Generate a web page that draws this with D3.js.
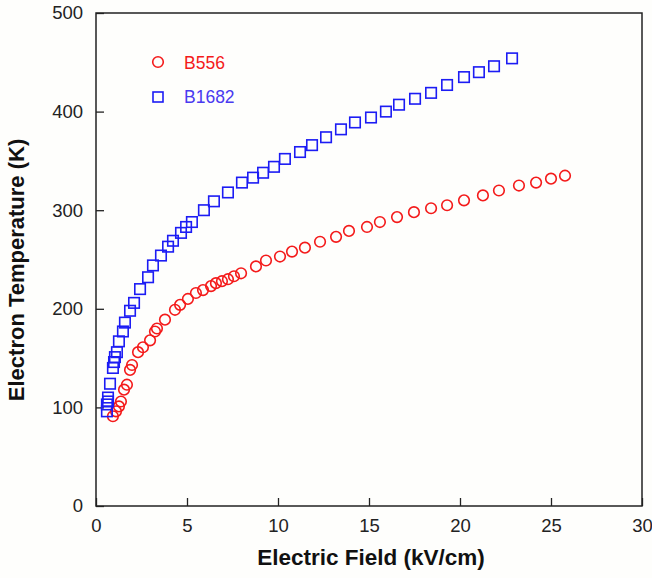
<!DOCTYPE html>
<html>
<head>
<meta charset="utf-8">
<script src="https://cdn.jsdelivr.net/npm/d3@7"></script>
<style>
  body { margin: 0; background: #fefefc; }
  text { font-family: "Liberation Sans", Arial, sans-serif; }
</style>
</head>
<body>
<div id="chart"></div>
<script>
// Electron temperature vs electric field, two samples

var b556Field = [0.93, 1.10, 1.26, 1.37, 1.54, 1.70, 1.87, 1.98, 2.31, 2.58, 2.97, 3.24, 3.35, 3.79,
    4.34, 4.62, 5.05, 5.49, 5.88, 6.32, 6.59, 6.92, 7.25, 7.58, 7.97, 8.79, 9.34, 10.11, 10.77,
    11.48, 12.31, 13.19, 13.90, 14.89, 15.60, 16.54, 17.47, 18.41, 19.29, 20.22, 21.26, 22.14,
    23.24, 24.18, 25.00, 25.77];
var b556Temp = [91, 96, 101, 106, 118, 123, 138, 143, 156, 161, 168, 177, 180, 189,
    199, 204, 210, 216, 219, 223, 226, 228, 230, 233, 236, 243, 249, 253, 258,
    262, 268, 273, 279, 283, 288, 293, 298, 302, 305, 310, 315, 320,
    325, 328, 332, 335];

var b1682Field = [0.60, 0.60, 0.66, 0.66, 0.77, 0.93, 0.99, 1.04, 1.15, 1.26, 1.48, 1.59, 1.87,
    2.09, 2.42, 2.86, 3.13, 3.57, 3.96, 4.23, 4.67, 4.95, 5.27, 5.93, 6.48, 7.25, 8.02, 8.63,
    9.18, 9.78, 10.38, 11.21, 11.87, 12.64, 13.46, 14.23, 15.11, 15.93, 16.65, 17.53, 18.41,
    19.29, 20.22, 21.04, 21.87, 22.86];
var b1682Temp = [96, 103, 106, 110, 124, 140, 146, 151, 156, 167, 177, 186, 198,
    206, 220, 232, 244, 254, 263, 269, 277, 283, 288, 300, 309, 318, 328, 333,
    338, 344, 352, 359, 366, 374, 382, 389, 394, 400, 407, 413, 419,
    427, 435, 440, 446, 454];

var xTicks = [0, 5, 10, 15, 20, 25, 30];
var yTicks = [0, 100, 200, 300, 400, 500];

var W = 652, H = 578;
var margin = { top: 13, right: 10, bottom: 72, left: 96 };

var svg = d3.select("#chart").append("svg")
    .attr("width", W)
    .attr("height", H);

var xScale = d3.scaleLinear().domain([0, 30]).range([margin.left, W - margin.right]);
var yScale = d3.scaleLinear().domain([0, 500]).range([H - margin.bottom, margin.top]);

var red = "#f41a1a", blue = "#1c1cf4";

// axes with inward ticks
var xAxis = d3.axisBottom(xScale).tickValues(xTicks).tickSizeInner(-8).tickSizeOuter(0).tickPadding(10);
var yAxis = d3.axisLeft(yScale).tickValues(yTicks).tickSizeInner(-8).tickSizeOuter(0).tickPadding(13);

var gx = svg.append("g")
    .attr("transform", "translate(0," + yScale(0) + ")")
    .call(xAxis);
var gy = svg.append("g")
    .attr("transform", "translate(" + xScale(0) + ",0)")
    .call(yAxis);

[gx, gy].forEach(function(g) {
    g.select(".domain").remove();
    g.selectAll(".tick line").attr("stroke", "#222").attr("stroke-width", 1.3);
    g.selectAll(".tick text")
        .attr("fill", "#222")
        .style("font-size", "18.5px");
});
gx.selectAll(".tick text").attr("dy", "0.85em");

// frame
svg.append("rect")
    .attr("x", xScale(0))
    .attr("y", yScale(500))
    .attr("width", xScale(30) - xScale(0))
    .attr("height", yScale(0) - yScale(500))
    .attr("fill", "none")
    .attr("stroke", "#222")
    .attr("stroke-width", 1.5);

// axis titles
svg.append("text")
    .attr("x", (xScale(0) + xScale(30)) / 2 + 2)
    .attr("y", 565)
    .attr("text-anchor", "middle")
    .style("font-size", "22.5px")
    .style("font-weight", "bold")
    .attr("fill", "#111")
    .text("Electric Field (kV/cm)");

svg.append("text")
    .attr("transform", "translate(24,270) rotate(-90)")
    .attr("text-anchor", "middle")
    .style("font-size", "22px")
    .style("font-weight", "bold")
    .attr("fill", "#111")
    .text("Electron Temperature (K)");

// B556 circles
var b556 = b556Field.map(function(f, i) { return { x: f, y: b556Temp[i] }; });
svg.append("g").selectAll("circle")
    .data(b556)
  .enter().append("circle")
    .attr("cx", function(d) { return xScale(d.x); })
    .attr("cy", function(d) { return yScale(d.y); })
    .attr("r", 5.3)
    .attr("fill", "none")
    .attr("stroke", red)
    .attr("stroke-width", 1.6);

// B1682 squares
var b1682 = b1682Field.map(function(f, i) { return { x: f, y: b1682Temp[i] }; });
var sq = 10.5;
svg.append("g").selectAll("rect")
    .data(b1682)
  .enter().append("rect")
    .attr("x", function(d) { return xScale(d.x) - sq / 2; })
    .attr("y", function(d) { return yScale(d.y) - sq / 2; })
    .attr("width", sq)
    .attr("height", sq)
    .attr("fill", "none")
    .attr("stroke", blue)
    .attr("stroke-width", 1.6);

// legend
var legend = svg.append("g");
legend.append("circle")
    .attr("cx", 158).attr("cy", 62).attr("r", 5.3)
    .attr("fill", "none").attr("stroke", red).attr("stroke-width", 1.6);
legend.append("text")
    .attr("x", 184).attr("y", 68.5)
    .style("font-size", "17.5px")
    .attr("fill", red)
    .text("B556");
legend.append("rect")
    .attr("x", 158 - 5).attr("y", 97 - 5).attr("width", 10).attr("height", 10)
    .attr("fill", "none").attr("stroke", blue).attr("stroke-width", 1.6);
legend.append("text")
    .attr("x", 184).attr("y", 103)
    .style("font-size", "17.5px")
    .attr("fill", "#4a3af0")
    .text("B1682");
</script>
</body>
</html>
